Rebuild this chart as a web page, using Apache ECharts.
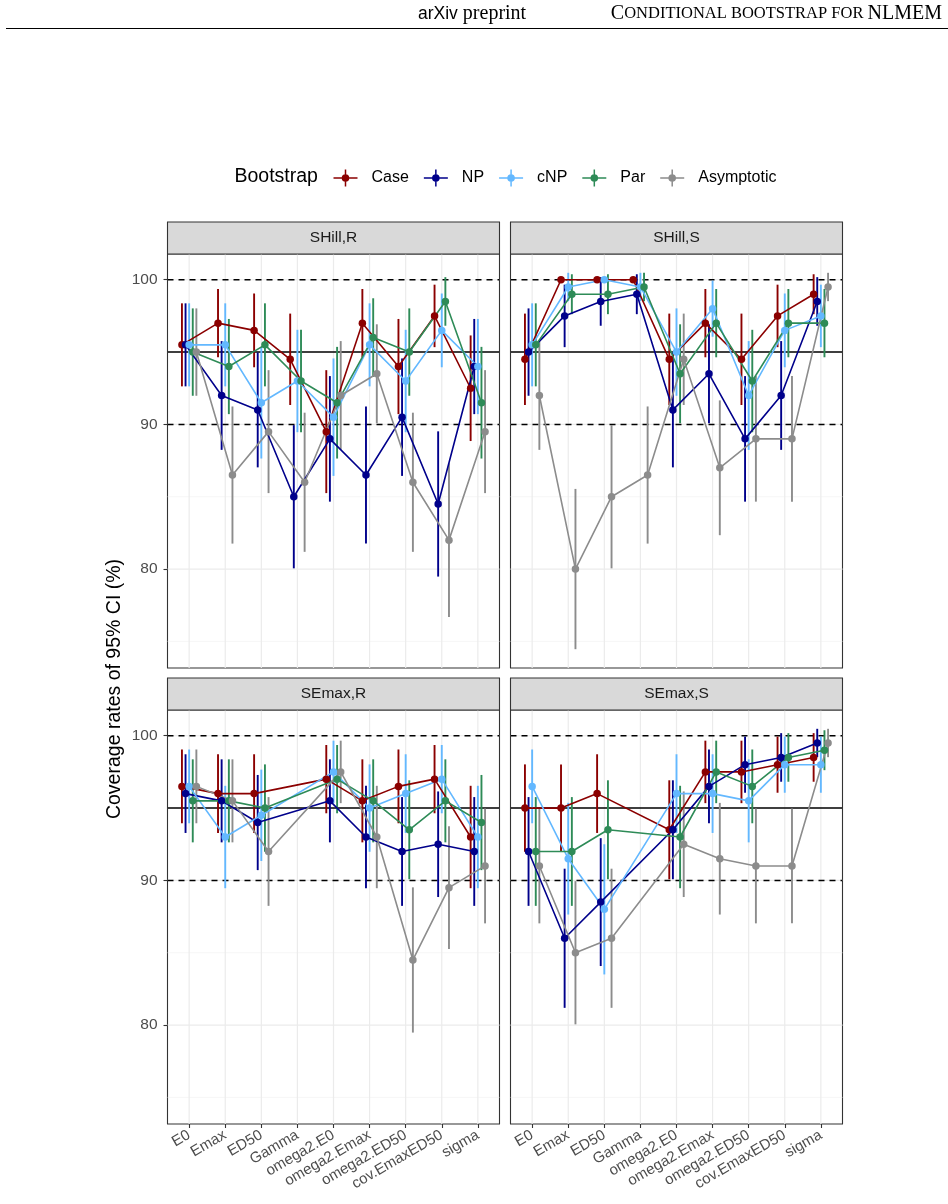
<!DOCTYPE html>
<html>
<head>
<meta charset="utf-8">
<title>Coverage rates of 95% CI</title>
<script src="https://cdn.jsdelivr.net/npm/echarts@6.0.0/dist/echarts.min.js"></script>
<style>
  html, body { margin: 0; padding: 0; background: #fff; }
  #main { width: 948px; height: 1204px; }
</style>
</head>
<body>
<div id="main"></div>
<script>
// categories (parameters) and bootstrap methods
var cats = ['E0', 'Emax', 'ED50', 'Gamma', 'omega2.E0', 'omega2.Emax', 'omega2.ED50', 'cov.EmaxED50', 'sigma'];
var methods = ['Case', 'NP', 'cNP', 'Par', 'Asymptotic'];
var panelNames = ['SHill,R', 'SHill,S', 'SEmax,R', 'SEmax,S'];
var yTicks = [80, 90, 100];

// coverage (%) and CI half widths
// SHill,R
var SHillR_Case = [95.5, 97, 96.5, 94.5, 89.5, 97, 94, 97.5, 92.5];
var SHillR_Case_err = [2.87, 2.36, 2.55, 3.16, 4.25, 2.36, 3.29, 2.16, 3.65];
var SHillR_NP = [95.5, 92, 91, 85, 89, 86.5, 90.5, 84.5, 94];
var SHillR_NP_err = [2.87, 3.76, 3.97, 4.95, 4.34, 4.74, 4.06, 5.02, 3.29];
var SHillR_cNP = [95.5, 95.5, 91.5, 93, 90.5, 95.5, 93, 96.5, 94];
var SHillR_cNP_err = [2.87, 2.87, 3.86, 3.54, 4.06, 2.87, 3.54, 2.55, 3.29];
var SHillR_Par = [95, 94, 95.5, 93, 91.5, 96, 95, 98.5, 91.5];
var SHillR_Par_err = [3.02, 3.29, 2.87, 3.54, 3.86, 2.72, 3.02, 1.68, 3.86];
var SHillR_Asym = [95, 86.5, 89.5, 86, 92, 93.5, 86, 82, 89.5];
var SHillR_Asym_err = [3.02, 4.74, 4.25, 4.81, 3.76, 3.42, 4.81, 5.32, 4.25];
// SHill,S
var SHillS_Case = [94.5, 100, 100, 100, 94.5, 97, 94.5, 97.5, 99];
var SHillS_Case_err = [3.16, 0, 0, 0, 3.16, 2.36, 3.16, 2.16, 1.38];
var SHillS_NP = [95, 97.5, 98.5, 99, 91, 93.5, 89, 92, 98.5];
var SHillS_NP_err = [3.02, 2.16, 1.68, 1.38, 3.97, 3.42, 4.34, 3.76, 1.68];
var SHillS_cNP = [95.5, 99.5, 100, 99.5, 95, 98, 92, 96.5, 97.5];
var SHillS_cNP_err = [2.87, 0.98, 0, 0.98, 3.02, 1.94, 3.76, 2.55, 2.16];
var SHillS_Par = [95.5, 99, 99, 99.5, 93.5, 97, 93, 97, 97];
var SHillS_Par_err = [2.87, 1.38, 1.38, 0.98, 3.42, 2.36, 3.54, 2.36, 2.36];
var SHillS_Asym = [92, 80, 85, 86.5, 94.5, 87, 89, 89, 99.5];
var SHillS_Asym_err = [3.76, 5.54, 4.95, 4.74, 3.16, 4.66, 4.34, 4.34, 0.98];
// SEmax,R (no Gamma)
var SEmaxR_Case = [96.5, 96, 96, null, 97, 95.5, 96.5, 97, 93];
var SEmaxR_Case_err = [2.55, 2.72, 2.72, null, 2.36, 2.87, 2.55, 2.36, 3.54];
var SEmaxR_NP = [96, 95.5, 94, null, 95.5, 93, 92, 92.5, 92];
var SEmaxR_NP_err = [2.72, 2.87, 3.29, null, 2.87, 3.54, 3.76, 3.65, 3.76];
var SEmaxR_cNP = [96.5, 93, 94.5, null, 97.5, 95, 96, 97, 93];
var SEmaxR_cNP_err = [2.55, 3.54, 3.16, null, 2.16, 3.02, 2.72, 2.36, 3.54];
var SEmaxR_Par = [95.5, 95.5, 95, null, 97, 95.5, 93.5, 95.5, 94];
var SEmaxR_Par_err = [2.87, 2.87, 3.02, null, 2.36, 2.87, 3.42, 2.87, 3.29];
var SEmaxR_Asym = [96.5, 95.5, 92, null, 97.5, 93, 84.5, 89.5, 91];
var SEmaxR_Asym_err = [2.55, 2.87, 3.76, null, 2.16, 3.54, 5.02, 4.25, 3.97];
// SEmax,S (no Gamma)
var SEmaxS_Case = [95, 95, 96, null, 93.5, 97.5, 97.5, 98, 98.5];
var SEmaxS_Case_err = [3.02, 3.02, 2.72, null, 3.42, 2.16, 2.16, 1.94, 1.68];
var SEmaxS_NP = [92, 86, 88.5, null, 93.5, 96.5, 98, 98.5, 99.5];
var SEmaxS_NP_err = [3.76, 4.81, 4.42, null, 3.42, 2.55, 1.94, 1.68, 0.98];
var SEmaxS_cNP = [96.5, 91.5, 88, null, 96, 96, 95.5, 98, 98];
var SEmaxS_cNP_err = [2.55, 3.86, 4.50, null, 2.72, 2.72, 2.87, 1.94, 1.94];
var SEmaxS_Par = [92, 92, 93.5, null, 93, 97.5, 96.5, 98.5, 99];
var SEmaxS_Par_err = [3.76, 3.76, 3.42, null, 3.54, 2.16, 2.55, 1.68, 1.38];
var SEmaxS_Asym = [91, 85, 86, null, 92.5, 91.5, 91, 91, 99.5];
var SEmaxS_Asym_err = [3.97, 4.95, 4.81, null, 3.65, 3.86, 3.97, 3.97, 0.98];

var panelValues = [
  [SHillR_Case, SHillR_NP, SHillR_cNP, SHillR_Par, SHillR_Asym],
  [SHillS_Case, SHillS_NP, SHillS_cNP, SHillS_Par, SHillS_Asym],
  [SEmaxR_Case, SEmaxR_NP, SEmaxR_cNP, SEmaxR_Par, SEmaxR_Asym],
  [SEmaxS_Case, SEmaxS_NP, SEmaxS_cNP, SEmaxS_Par, SEmaxS_Asym]
];
var panelErrors = [
  [SHillR_Case_err, SHillR_NP_err, SHillR_cNP_err, SHillR_Par_err, SHillR_Asym_err],
  [SHillS_Case_err, SHillS_NP_err, SHillS_cNP_err, SHillS_Par_err, SHillS_Asym_err],
  [SEmaxR_Case_err, SEmaxR_NP_err, SEmaxR_cNP_err, SEmaxR_Par_err, SEmaxR_Asym_err],
  [SEmaxS_Case_err, SEmaxS_NP_err, SEmaxS_cNP_err, SEmaxS_Par_err, SEmaxS_Asym_err]
];

var colors = ['#8B0000', '#00008B', '#63B8FF', '#2E8B57', '#8C8C8C'];
var dodge = [-0.2, -0.1, 0, 0.1, 0.2];
var FONT = 'Liberation Sans, Arial, sans-serif';

// panel boxes (pixels)
var boxes = [
  {left: 167.5, top: 254, width: 332, height: 414},
  {left: 510.5, top: 254, width: 332, height: 414},
  {left: 167.5, top: 710, width: 332, height: 414},
  {left: 510.5, top: 710, width: 332, height: 414}
];
var stripH = 32;

function points(vals, m) {
  var out = [];
  vals.forEach(function (v, i) { if (v != null) out.push([i + dodge[m], v]); });
  return out;
}
function bars(vals, errs, m) {
  var out = [];
  vals.forEach(function (v, i) { if (v != null) out.push([i + dodge[m], v - errs[i], v + errs[i]]); });
  return out;
}
function hLine(color, width, dash) {
  return function (params, api) {
    var cs = params.coordSys;
    var y = api.coord([0, api.value(1)])[1];
    var style = {stroke: color, lineWidth: width};
    if (dash) style.lineDash = dash;
    return {type: 'line', shape: {x1: cs.x, y1: y, x2: cs.x + cs.width, y2: y}, style: style};
  };
}
function vLine(color, width) {
  return function (params, api) {
    var cs = params.coordSys;
    var x = api.coord([api.value(0), 90])[0];
    return {type: 'line', shape: {x1: x, y1: cs.y, x2: x, y2: cs.y + cs.height}, style: {stroke: color, lineWidth: width}};
  };
}

var grids = [], xAxes = [], yAxes = [], series = [], graphics = [];

panelNames.forEach(function (pn, p) {
  var b = boxes[p];
  var bottom = p >= 2, left = p % 2 === 0;
  grids.push({left: b.left, top: b.top, width: b.width, height: b.height,
    show: true, borderColor: '#333333', borderWidth: 1.1, backgroundColor: '#fff'});
  xAxes.push({
    gridIndex: p, type: 'value', min: -0.6, max: 8.6,
    splitLine: {show: false},
    axisLine: {show: false, onZero: false},
    axisTick: {show: bottom, customValues: cats.map(function (c, i) { return i; }), length: 4,
      lineStyle: {color: '#333333', width: 1.1}},
    axisLabel: {show: bottom, customValues: cats.map(function (c, i) { return i; }),
      formatter: function (v) { return cats[Math.round(v)]; },
      rotate: 30, margin: 10, fontSize: 15, color: '#4D4D4D', fontFamily: FONT}
  });
  yAxes.push({
    gridIndex: p, type: 'value', min: 73.16, max: 101.78,
    splitLine: {show: false},
    axisLine: {show: false, onZero: false},
    axisTick: {show: left, customValues: yTicks, length: 4, lineStyle: {color: '#333333', width: 1.1}},
    axisLabel: {show: left, customValues: yTicks, margin: 10, fontSize: 15.5, color: '#4D4D4D', fontFamily: FONT}
  });

  // background grid
  series.push({type: 'custom', name: 'minor', xAxisIndex: p, yAxisIndex: p, silent: true, z: 0,
    encode: {x: 0, y: 1}, data: [[0, 75], [0, 85], [0, 95]], renderItem: hLine('#F2F2F2', 0.7)});
  series.push({type: 'custom', name: 'major', xAxisIndex: p, yAxisIndex: p, silent: true, z: 0,
    encode: {x: 0, y: 1}, data: yTicks.map(function (v) { return [0, v]; }), renderItem: hLine('#EBEBEB', 1.2)});
  series.push({type: 'custom', name: 'vgrid', xAxisIndex: p, yAxisIndex: p, silent: true, z: 0,
    encode: {x: 0, y: 1}, data: cats.map(function (c, i) { return [i, 90]; }), renderItem: vLine('#EBEBEB', 1.2)});
  // reference lines
  series.push({type: 'custom', name: 'ref', xAxisIndex: p, yAxisIndex: p, silent: true, z: 1,
    encode: {x: 0, y: 1}, data: [[0, 90], [0, 100]], renderItem: hLine('#000000', 1.5, [6, 5])});
  series.push({type: 'custom', name: 'ref95', xAxisIndex: p, yAxisIndex: p, silent: true, z: 1,
    encode: {x: 0, y: 1}, data: [[0, 95]], renderItem: hLine('#000000', 1.5)});

  // lines + points
  methods.forEach(function (m, k) {
    series.push({
      type: 'line', name: m, xAxisIndex: p, yAxisIndex: p, z: 3,
      data: points(panelValues[p][k], k),
      symbol: 'circle', symbolSize: 7.5,
      lineStyle: {color: colors[k], width: 1.6},
      itemStyle: {color: colors[k]},
      emphasis: {disabled: true}
    });
  });
  // error bars
  methods.forEach(function (m, k) {
    series.push({
      type: 'custom', name: m, xAxisIndex: p, yAxisIndex: p, z: 2,
      encode: {x: 0, y: [1, 2]},
      itemStyle: {color: colors[k]},
      data: bars(panelValues[p][k], panelErrors[p][k], k),
      renderItem: (function (col) {
        return function (params, api) {
          var top = api.coord([api.value(0), api.value(2)]);
          var bot = api.coord([api.value(0), api.value(1)]);
          return {type: 'line', shape: {x1: top[0], y1: top[1], x2: bot[0], y2: bot[1]},
            style: {stroke: col, lineWidth: 1.9}};
        };
      })(colors[k])
    });
  });

  // facet strip
  graphics.push({type: 'rect', shape: {x: b.left, y: b.top - stripH, width: b.width, height: stripH},
    style: {fill: '#D9D9D9', stroke: '#333333', lineWidth: 1.1}, z: 10});
  graphics.push({type: 'text', x: b.left + b.width / 2, y: b.top - stripH / 2, z: 11,
    style: {text: pn, fill: '#1A1A1A', font: '15.5px ' + FONT, textAlign: 'center', textVerticalAlign: 'middle'}});
});

// page header
graphics.push({type: 'text', x: 418, y: 14, z: 11, style: {
  text: '{a|arXiv}{b| preprint}', textVerticalAlign: 'middle',
  rich: {a: {fontFamily: FONT, fontSize: 17.5, fill: '#000'}, b: {fontFamily: 'Liberation Serif, serif', fontSize: 20, fill: '#000'}}
}});
graphics.push({type: 'text', x: 942, y: 14, z: 11, style: {
  text: '{a|C}{b|ONDITIONAL BOOTSTRAP FOR }{a|NLMEM}', textAlign: 'right', textVerticalAlign: 'middle',
  rich: {a: {fontFamily: 'Liberation Serif, serif', fontSize: 20, fill: '#000'},
         b: {fontFamily: 'Liberation Serif, serif', fontSize: 16.5, fill: '#000'}}
}});
graphics.push({type: 'line', shape: {x1: 6, y1: 28.5, x2: 948, y2: 28.5}, style: {stroke: '#000', lineWidth: 1.1}});

// legend title and y-axis title
graphics.push({type: 'text', x: 234.5, y: 177, z: 11,
  style: {text: 'Bootstrap', fill: '#000', font: '19.5px ' + FONT, textVerticalAlign: 'middle'}});
graphics.push({type: 'text', x: 115, y: 689, rotation: Math.PI / 2, z: 11,
  style: {text: 'Coverage rates of 95% CI (%)', fill: '#000', font: '19.5px ' + FONT,
    textAlign: 'center', textVerticalAlign: 'middle'}});

// legend key: errorbar cross with a point
var keyIcon = 'path://M0,7.75H24V9.25H0Z M11.25,0H12.75V17H11.25Z M8.2,8.5A3.8,3.8 0 1,1 15.8,8.5A3.8,3.8 0 1,1 8.2,8.5Z';

var chart = echarts.init(document.getElementById('main'));
chart.setOption({
  animation: false,
  backgroundColor: '#fff',
  grid: grids,
  xAxis: xAxes,
  yAxis: yAxes,
  legend: {
    data: methods.map(function (m) { return {name: m, icon: keyIcon}; }),
    left: 328.5, top: 164.5, itemWidth: 42, itemHeight: 17, itemGap: 15,
    selectedMode: false,
    textStyle: {fontSize: 16, color: '#000', fontFamily: FONT}
  },
  graphic: graphics,
  series: series
});
</script>
</body>
</html>
